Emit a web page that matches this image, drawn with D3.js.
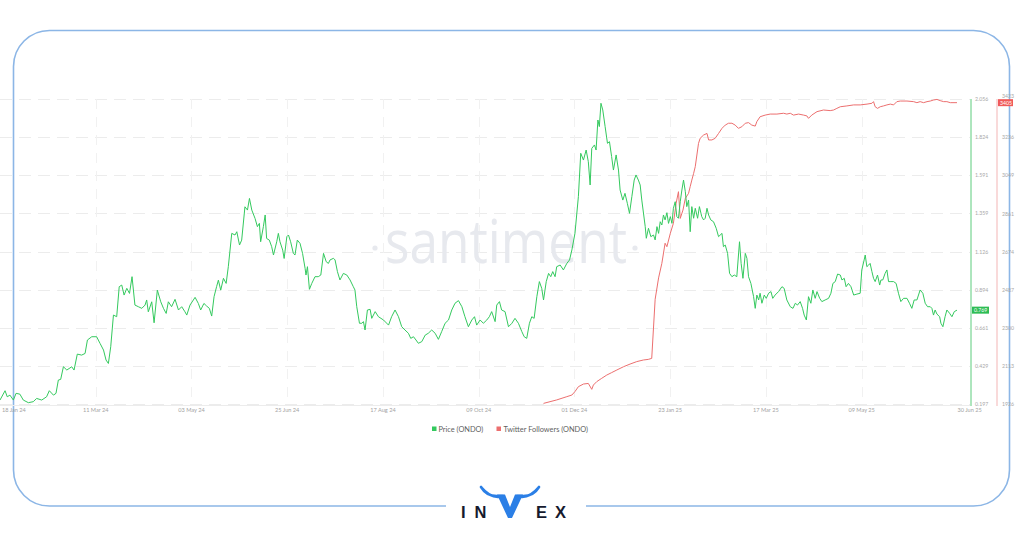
<!DOCTYPE html>
<html><head><meta charset="utf-8">
<script src="https://cdn.jsdelivr.net/npm/d3@7"></script>
<style>body{margin:0;background:#fff;}svg{display:block;font-family:Lato,"Open Sans",sans-serif;}</style>
</head><body>
<svg id="c" width="1024" height="538"></svg>
<script>
// ---- data (days since 2024-01-18) ----
const startDate = "2024-01-18";
const endDate = "2025-07-08";
const priceSeries = [[0,0.221],[2.8,0.278],[4.0,0.241],[5.5,0.251],[7.4,0.221],[8.9,0.262],[11.0,0.257],[12.9,0.221],[15.7,0.205],[18.4,0.211],[20.3,0.231],[23.1,0.221],[25.8,0.241],[27.3,0.278],[29.6,0.251],[31.0,0.262],[32.3,0.343],[33.6,0.347],[35.1,0.424],[37.0,0.404],[39.7,0.424],[41.0,0.404],[42.8,0.501],[45.2,0.495],[47.1,0.505],[48.4,0.587],[50.8,0.607],[53.5,0.607],[55.4,0.566],[57.3,0.526],[58.7,0.465],[60.0,0.444],[61.3,0.546],[62.8,0.739],[64.6,0.729],[66.0,0.912],[67.4,0.922],[68.7,0.861],[70.2,0.902],[71.7,0.871],[73.1,0.973],[74.7,0.800],[76.6,0.790],[78.5,0.780],[80.3,0.800],[81.2,0.831],[82.1,0.759],[84.0,0.820],[85.3,0.692],[87.1,0.891],[89.0,0.820],[90.5,0.780],[92.0,0.749],[93.2,0.820],[95.0,0.790],[96.9,0.835],[98.8,0.770],[100.6,0.790],[102.4,0.759],[103.4,0.739],[105.2,0.800],[108.0,0.847],[109.8,0.810],[111.1,0.770],[112.9,0.810],[114.4,0.794],[115.9,0.780],[117.2,0.733],[118.5,0.851],[119.9,0.912],[120.9,0.952],[122.2,0.891],[123.7,0.963],[125.2,0.932],[126.4,1.034],[128.3,1.237],[130.1,1.227],[131.1,1.247],[132.6,1.166],[133.8,1.196],[135.6,1.399],[137.0,1.379],[138.1,1.450],[139.4,1.379],[141.2,1.328],[142.5,1.278],[143.6,1.298],[144.3,1.186],[145.8,1.278],[146.8,1.349],[147.6,1.206],[149.1,1.196],[150.4,1.156],[151.4,1.105],[153.2,1.186],[154.1,1.237],[155.0,1.186],[156.5,1.135],[157.3,1.084],[158.8,1.217],[159.7,1.227],[160.9,1.186],[162.4,1.115],[163.3,1.105],[164.6,1.196],[166.1,1.176],[167.5,1.115],[168.9,1.024],[169.4,0.983],[170.2,1.034],[171.3,0.896],[172.6,0.932],[174.4,0.973],[176.2,0.973],[177.6,0.983],[179.1,1.115],[180.6,1.064],[181.8,1.054],
[182.7,1.075],[184.6,1.085],[185.5,1.075],[186.8,1.004],[188.2,0.953],[190.1,0.993],[192.0,0.983],[193.8,0.953],[195.6,0.912],[196.5,0.892],[197.5,0.790],[199.0,0.689],[200.3,0.689],[201.2,0.699],[202.1,0.648],[203.4,0.770],[204.9,0.774],[205.8,0.719],[207.7,0.760],[209.5,0.729],[212.3,0.709],[215.1,0.678],[216.8,0.729],[218.7,0.770],[220.6,0.729],[222.4,0.668],[224.2,0.648],[226.1,0.628],[227.4,0.597],[228.9,0.607],[230.3,0.587],[231.6,0.567],[233.5,0.577],[235.4,0.617],[237.1,0.628],[239.0,0.648],[240.9,0.628],[242.7,0.591],[244.5,0.638],[246.4,0.689],[248.3,0.709],[250.1,0.770],[251.9,0.811],[253.8,0.827],[255.7,0.790],[257.4,0.729],[259.3,0.668],[261.2,0.709],[262.7,0.729],[263.9,0.678],[265.8,0.709],[267.6,0.689],[269.5,0.709],[270.9,0.729],[272.2,0.760],[274.1,0.699],[275.0,0.800],[276.5,0.821],[277.7,0.770],[279.6,0.760],[281.5,0.668],[283.4,0.689],[285.1,0.719],[287.0,0.689],[288.9,0.638],[290.2,0.607],[291.6,0.597],[293.1,0.689],[294.4,0.729],[295.7,0.719],[297.2,0.851],[298.6,0.943],[299.9,0.902],[300.9,0.831],[302.4,0.943],[303.7,0.993],[304.9,0.973],[306.0,1.004],[307.3,0.973],[308.2,1.034],[310.1,1.044],[311.9,1.014],[313.8,1.054],[315.3,1.075],[316.6,1.136],[318.3,1.237],[320.2,1.461],[321.5,1.725],[323.0,1.684],[324.5,1.745],[325.7,1.674],[326.7,1.532],[327.6,1.755],[329.1,1.776],[330.0,1.745],[331.0,1.928],[331.8,1.888],[332.7,2.030],[333.7,1.989],[335.0,1.888],[336.3,1.786],[337.4,1.796],[338.6,1.705],[339.6,1.623],[341.1,1.715],[342.4,1.623],[343.3,1.501],[344.8,1.440],[346.0,1.481],[347.3,1.420],[348.5,1.359],[349.8,1.461],[351.1,1.562],[352.1,1.593],[353.4,1.562],
[354.4,1.532],[355.3,1.440],[357.2,1.278],[357.8,1.207],[359.0,1.268],[360.3,1.217],[361.8,1.227],[362.7,1.197],[363.7,1.278],[364.6,1.237],[365.5,1.308],[366.4,1.288],[367.3,1.349],[368.2,1.319],[369.2,1.363],[370.1,1.298],[371.1,1.339],[372.0,1.298],[372.8,1.390],[373.8,1.430],[374.7,1.339],[375.6,1.329],[376.6,1.430],[377.5,1.501],[378.4,1.562],[379.4,1.491],[380.2,1.400],[381.2,1.440],[382.1,1.247],[383.0,1.400],[384.0,1.329],[384.9,1.390],[386.2,1.329],[387.2,1.400],[388.5,1.339],[389.5,1.319],[390.4,1.329],[391.4,1.390],[392.3,1.349],[393.5,1.319],[395.0,1.308],[396.5,1.268],[397.8,1.217],[399.7,1.237],[400.5,1.156],[401.5,1.166],[402.8,1.115],[403.9,0.993],[405.2,0.973],[406.5,0.983],[407.9,0.973],[409.4,1.186],[410.3,1.054],[411.3,0.963],[412.6,1.115],[413.5,1.085],[414.4,0.973],[415.7,0.932],[417.2,0.851],[418.1,0.780],[419.0,0.861],[420.0,0.831],[420.8,0.872],[421.8,0.811],[423.1,0.861],[424.2,0.841],[425.5,0.872],[426.8,0.882],[427.8,0.841],[429.1,0.861],[431.0,0.882],[432.9,0.912],[434.1,0.902],[435.6,0.831],[437.5,0.790],[439.0,0.780],[440.3,0.811],[441.5,0.800],[443.0,0.821],[444.3,0.780],[445.2,0.739],[446.4,0.709],[447.6,0.851],[448.9,0.811],[450.0,0.892],[451.3,0.841],[452.3,0.882],[453.8,0.841],[455.0,0.821],[456.8,0.831],[458.7,0.841],[460.0,0.872],[461.1,0.932],[462.4,0.943],[463.7,0.989],[465.2,0.983],[466.1,0.953],[467.4,0.963],[468.4,0.912],[469.7,0.932],[471.1,0.912],[472.6,0.861],[474.4,0.867],[476.2,0.872],[477.1,1.014],[478.4,1.075],[479.0,1.105],[479.9,1.034],[480.9,1.044],[481.7,1.054],[482.7,1.004],[483.6,0.963],[484.5,0.943],[485.8,0.983],[487.0,0.922],[487.7,0.953],[488.7,0.953],[490.0,0.993],[491.0,1.014],[491.9,0.943],[493.2,0.943],[494.7,0.943],[496.1,0.932],[497.4,0.872],[498.7,0.821],[500.2,0.841],[502.1,0.841],[503.5,0.811],[504.8,0.780],[506.1,0.831],[507.6,0.831],[509.4,0.892],[510.9,0.872],[512.2,0.811],[513.5,0.790],[515.0,0.790],[515.9,0.780],[516.8,0.739],[517.7,0.770],[518.7,0.745],[520.2,0.729],[520.9,0.689],[522.0,0.668],[523.2,0.729],[524.2,0.770],[525.7,0.750],[527.0,0.729],[528.3,0.760],[529.8,0.769]];
const followerSeries = [[300.9,1929],[308.2,1946],[313.8,1962],[316.6,1970],[318.3,1987],[320.2,2011],[323.0,2024],[325.7,2027],[327.6,1998],[328.5,2019],[330.4,2036],[333.1,2052],[335.9,2068],[338.6,2080],[341.5,2093],[345.2,2109],[348.8,2122],[352.5,2134],[356.2,2142],[358.9,2145],[360.8,2150],[362.7,2440],[364.6,2545],[366.4,2616],[368.2,2715],[369.2,2698],[371.1,2764],[372.8,2813],[374.3,2911],[375.6,2968],[376.6,2837],[378.1,2878],[379.4,2935],[381.2,2960],[382.1,2993],[383.0,3025],[384.0,3058],[384.9,3091],[385.8,3148],[386.7,3205],[387.6,3230],[389.5,3246],[391.4,3254],[392.3,3222],[394.1,3222],[395.9,3230],[397.8,3254],[399.7,3279],[401.5,3295],[403.3,3304],[405.2,3304],[407.0,3295],[408.8,3279],[410.7,3287],[412.6,3304],[414.4,3307],[416.2,3295],[418.1,3290],[419.0,3312],[420.8,3336],[423.6,3344],[426.4,3349],[430.1,3349],[433.8,3353],[435.6,3349],[437.5,3353],[439.3,3344],[442.1,3349],[444.9,3344],[446.7,3340],[447.6,3328],[449.4,3344],[452.3,3361],[455.9,3369],[459.6,3366],[461.5,3369],[463.3,3377],[465.2,3385],[468.8,3389],[472.6,3394],[476.2,3394],[480.0,3398],[482.7,3402],[483.6,3410],[484.5,3385],[485.8,3377],[487.3,3385],[489.1,3389],[491.0,3394],[492.9,3398],[494.7,3394],[496.5,3410],[498.4,3413],[502.1,3413],[505.8,3410],[507.6,3405],[509.4,3410],[511.3,3405],[513.2,3410],[515.0,3413],[516.8,3418],[518.7,3421],[520.5,3415],[522.4,3410],[524.2,3410],[526.1,3405],[529.8,3405]];
const xTickDates = ["2024-01-18","2024-03-11","2024-05-03","2024-06-25","2024-08-17","2024-10-09","2024-12-01","2025-01-23","2025-03-17","2025-05-09","2025-06-30"];
const xTickLabels = ["18 Jan 24","11 Mar 24","03 May 24","25 Jun 24","17 Aug 24","09 Oct 24","01 Dec 24","23 Jan 25","17 Mar 25","09 May 25","30 Jun 25"];
const priceTicks = [0.197,0.429,0.661,0.894,1.126,1.359,1.591,1.824,2.056];
const followerTicks = [1926,2113,2300,2487,2674,2861,3049,3236,3423];
const legendItems = ["Price (ONDO)","Twitter Followers (ONDO)"];
const colors = {price:"#34c95e", followers:"#ec6f6f"};

// ---- scales ----
const parse = d3.utcParse("%Y-%m-%d");
const t0 = parse(startDate);
const toDate = d => new Date(t0.getTime() + d*864e5);
const plot = {left:0, right:970, top:99, bottom:404};
const x = d3.scaleUtc().domain([t0, parse(endDate)]).range([plot.left, plot.right]);
const yP = d3.scaleLinear().domain([priceTicks[0], priceTicks[priceTicks.length-1]]).range([plot.bottom, plot.top]);
const yF = d3.scaleLinear().domain([followerTicks[0], followerTicks[followerTicks.length-1]]).range([plot.bottom, plot.top]);

const svg = d3.select("#c");
svg.append("rect").attr("width",1024).attr("height",538).attr("fill","#fff");

// frame
svg.append("rect").attr("x",13.5).attr("y",30.5).attr("width",996).attr("height",475.5)
  .attr("rx",36).attr("fill","none").attr("stroke","#8cb6e6").attr("stroke-width",1.6);
svg.append("rect").attr("x",446).attr("y",498).attr("width",140).attr("height",16).attr("fill","#fff");

// gridlines
const g = svg.append("g");
g.selectAll(".hg").data(priceTicks).join("line")
  .attr("x1",plot.left).attr("x2",plot.right).attr("y1",d=>Math.round(yP(d))+0.5).attr("y2",d=>Math.round(yP(d))+0.5)
  .attr("stroke","#ececec").attr("stroke-dasharray","12,7").attr("stroke-width",1);
g.selectAll(".vg").data(xTickDates.slice(1,-1)).join("line")
  .attr("x1",d=>Math.round(x(parse(d)))+0.5).attr("x2",d=>Math.round(x(parse(d)))+0.5)
  .attr("y1",plot.top).attr("y2",plot.bottom)
  .attr("stroke","#f1f1f1").attr("stroke-dasharray","10,8");
g.append("line").attr("x1",plot.left).attr("x2",plot.right).attr("y1",405.5).attr("y2",405.5).attr("stroke","#ececec");

// watermark
svg.append("text").attr("x",506).attr("y",263).attr("text-anchor","middle")
  .attr("font-family","'Open Sans',sans-serif").attr("font-size",60).attr("fill","#e7e9ee")
  .attr("textLength",242).attr("lengthAdjust","spacingAndGlyphs").text("santiment");
svg.append("circle").attr("cx",375).attr("cy",248).attr("r",2.6).attr("fill","#e7e9ee");
svg.append("circle").attr("cx",635).attr("cy",248).attr("r",2.6).attr("fill","#e7e9ee");

// x tick labels
svg.selectAll(".xl").data(xTickDates).join("text")
  .attr("x",(d,i)=> x(parse(d)) + ((i===0||i===xTickDates.length-1)?2:0))
  .attr("y",412)
  .attr("text-anchor",(d,i)=>(i===0||i===xTickDates.length-1)?"start":"middle")
  .attr("font-size",5.6).attr("fill","#a3a3a3").text((d,i)=>xTickLabels[i]);

// lines
const lineP = d3.line().x(d=>x(toDate(d[0]))).y(d=>yP(d[1]));
const lineF = d3.line().x(d=>x(toDate(d[0]))).y(d=>yF(d[1]));
svg.append("path").datum(followerSeries).attr("d",lineF).attr("fill","none")
  .attr("stroke",colors.followers).attr("stroke-width",1).attr("stroke-linejoin","round");
svg.append("path").datum(priceSeries).attr("d",lineP).attr("fill","none")
  .attr("stroke",colors.price).attr("stroke-width",1).attr("stroke-linejoin","round");

// right axes
svg.append("line").attr("x1",971).attr("x2",971).attr("y1",plot.top).attr("y2",plot.bottom+2).attr("stroke","#5ccc7c").attr("stroke-width",1);
svg.append("line").attr("x1",997).attr("x2",997).attr("y1",plot.top).attr("y2",plot.bottom+2).attr("stroke","#f3b5b5").attr("stroke-width",1);

const lastP = priceSeries[priceSeries.length-1];
const lastF = followerSeries[followerSeries.length-1];
const badgeP = yP(lastP[1]), badgeF = yF(lastF[1]);
// tick labels shifted away from the value badge when they would collide
const shift = (y, by) => Math.abs(y - by) < 7 ? (y < by ? by - 7 : by + 7) : y;
svg.selectAll(".pt").data(priceTicks).join("text")
  .attr("x",975).attr("y",d=>shift(yP(d),badgeP)+2).attr("font-size",5.2).attr("fill","#a8a8a8").text(d=>d3.format(".3f")(d));
svg.selectAll(".ft").data(followerTicks).join("text")
  .attr("x",1002).attr("y",d=>shift(yF(d),badgeF)+2).attr("font-size",5.2).attr("fill","#a8a8a8").text(d=>d);

// badges
svg.append("rect").attr("x",972).attr("y",badgeP-3.5).attr("width",17).attr("height",7).attr("fill","#2ebd55");
svg.append("text").attr("x",974).attr("y",badgeP+2).attr("font-size",5.2).attr("fill","#fff").text(d3.format(".3f")(lastP[1]));
svg.append("rect").attr("x",998).attr("y",badgeF-3.5).attr("width",15).attr("height",7).attr("fill","#f05a5a");
svg.append("text").attr("x",1000).attr("y",badgeF+2).attr("font-size",5.2).attr("fill","#fff").text(lastF[1]);

// legend
const leg = svg.append("g").attr("font-size",7.4).attr("fill","#5f5f5f");
leg.append("rect").attr("x",432).attr("y",426.5).attr("width",4.5).attr("height",4.5).attr("fill",colors.price);
leg.append("text").attr("x",438.5).attr("y",431.5).text(legendItems[0]);
leg.append("rect").attr("x",496.5).attr("y",426.5).attr("width",4.5).attr("height",4.5).attr("fill",colors.followers);
leg.append("text").attr("x",503.5).attr("y",431.5).text(legendItems[1]);

// logo
const logo = svg.append("g");
logo.append("text").attr("x",461).attr("y",517.5).attr("font-family","'Liberation Sans',Arial,sans-serif").attr("font-weight","bold")
  .attr("font-size",16.5).attr("fill","#161a2e").attr("letter-spacing",9).text("IN");
logo.append("text").attr("x",536).attr("y",517.5).attr("font-family","'Liberation Sans',Arial,sans-serif").attr("font-weight","bold")
  .attr("font-size",16.5).attr("fill","#161a2e").attr("letter-spacing",8).text("EX");
logo.append("path").attr("d","M481,487 Q487,497 499,496 L503,496 Q492,500 481,487 Z M539,487 Q533,497 521,496 L517,496 Q528,500 539,487 Z").attr("fill","#2b7fe6").attr("stroke","#2b7fe6").attr("stroke-width",2.6).attr("stroke-linejoin","round");
logo.append("path").attr("d","M497,494.5 L505,494.5 L510,507 L515,494.5 L523,494.5 L512,518 L508,518 Z").attr("fill","#2b7fe6");
</script>
</body></html>
